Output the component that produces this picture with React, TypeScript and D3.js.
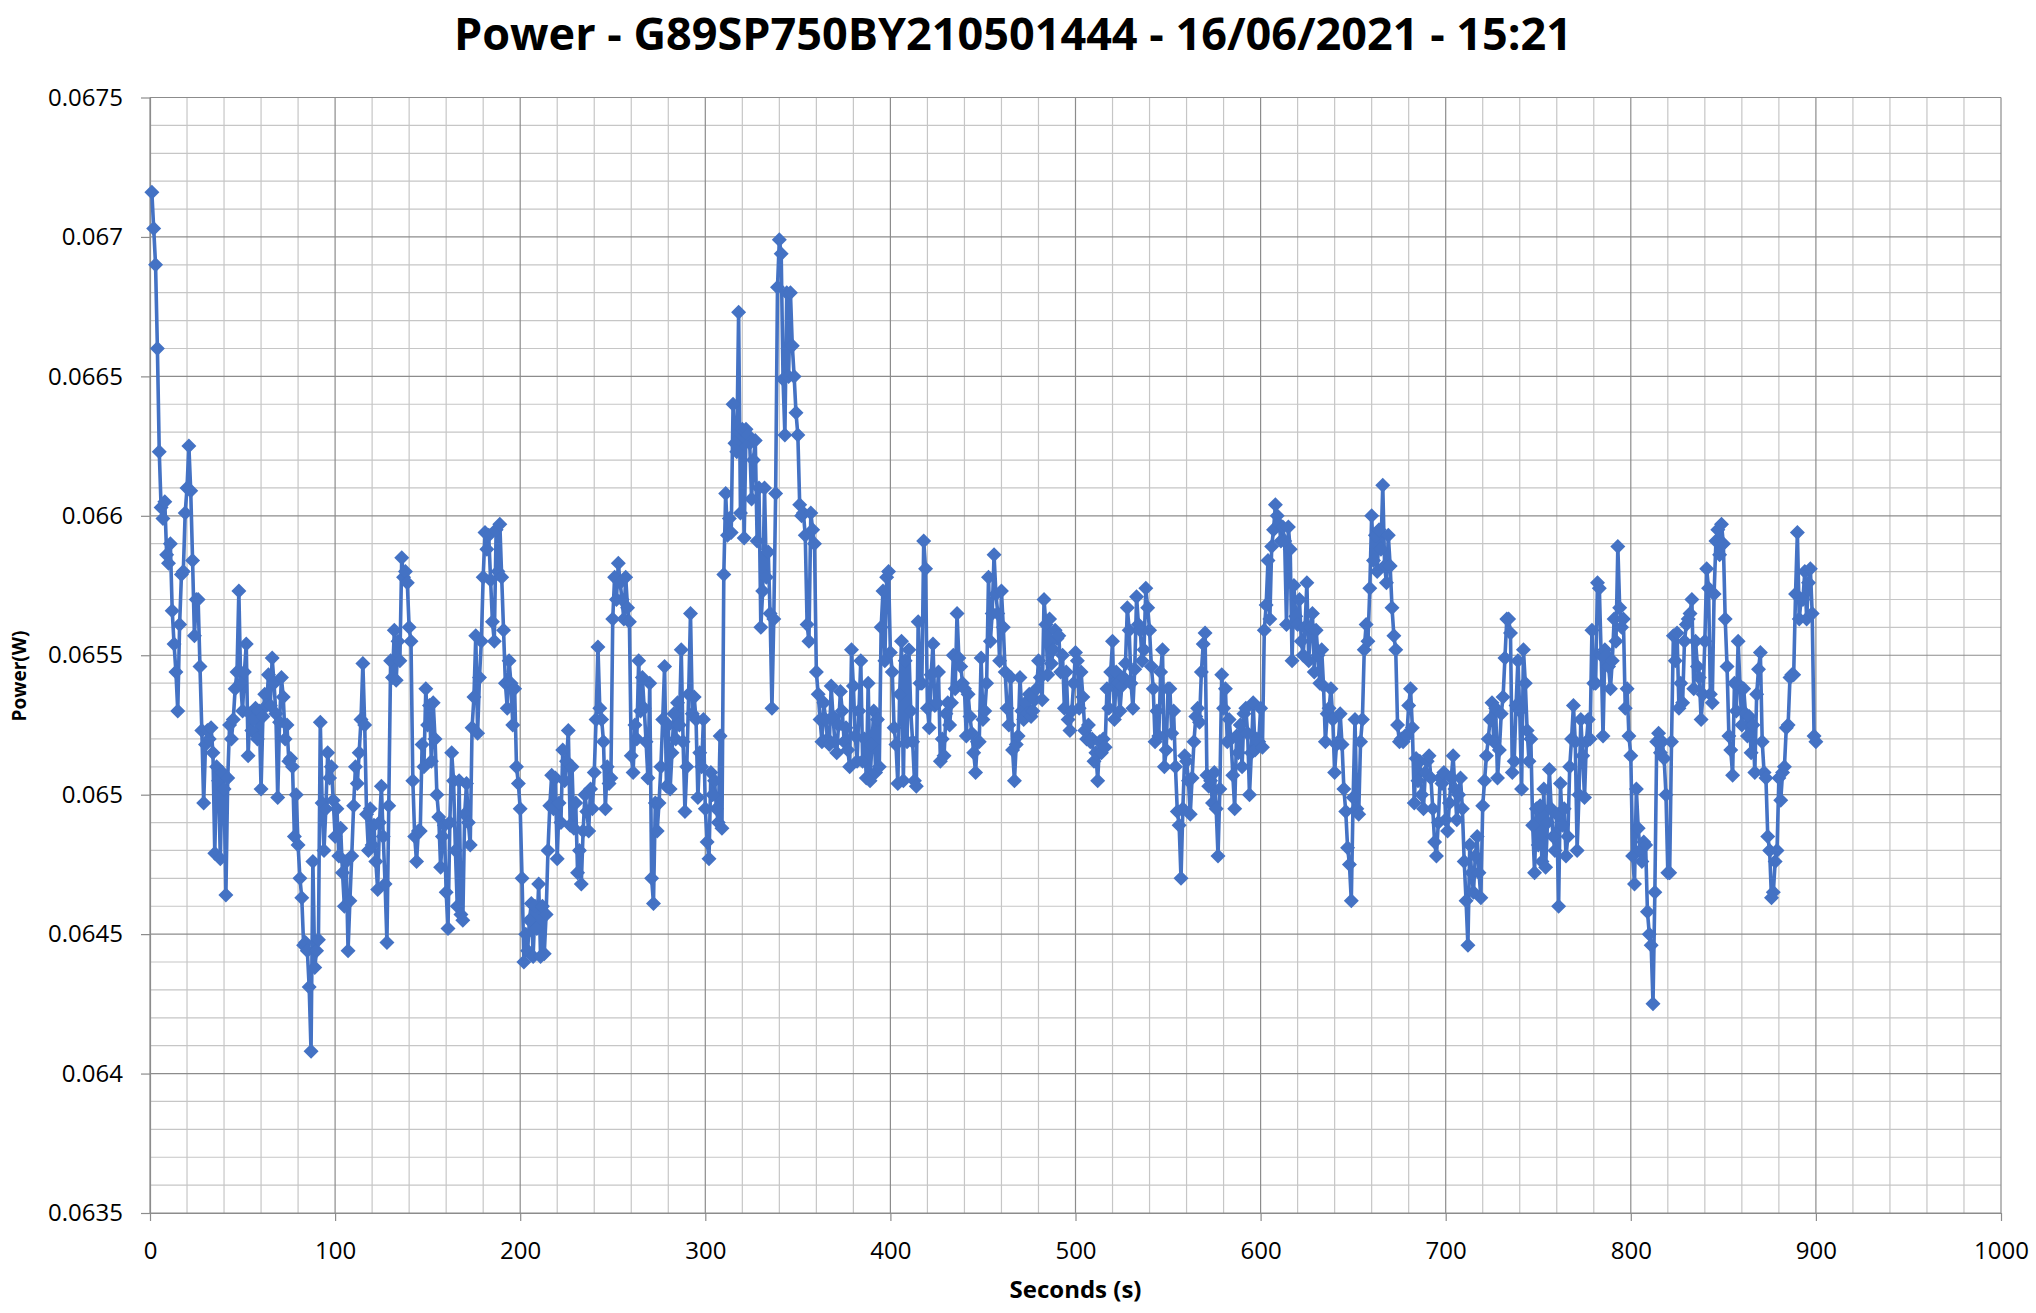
import * as d3 from 'd3';
import React, { useEffect, useRef } from 'react';

const TITLE = 'Power - G89SP750BY210501444 - 16/06/2021 - 15:21';
const X_TITLE = 'Seconds (s)';
const Y_TITLE = 'Power(W)';

const xTicks = [0, 100, 200, 300, 400, 500, 600, 700, 800, 900, 1000];
const yTicks = [0.0635, 0.064, 0.0645, 0.065, 0.0655, 0.066, 0.0665, 0.067, 0.0675];
const yTickLabels = ['0.0635', '0.064', '0.0645', '0.065', '0.0655', '0.066', '0.0665', '0.067', '0.0675'];

// one reading per second, starting at t = 1 s
const startSecond = 1;
const stepSeconds = 1;
// readings in microwatts
const powerMicroW = [
  67160, 67030, 66900, 66600, 66230, 66030, 65990, 66050, 65860, 65830,
  65900, 65660, 65540, 65440, 65300, 65610, 65790, 65800, 66010, 66100,
  66250, 66090, 65840, 65570, 65700, 65700, 65460, 65230, 64970, 65180,
  65230, 65200, 65240, 65150, 64790, 65100, 65050, 64770, 65080, 65020,
  64640, 65060, 65250, 65200, 65270, 65380, 65440, 65730, 65400, 65300,
  65440, 65540, 65140, 65290, 65230, 65270, 65310, 65200, 65300, 65020,
  65280, 65360, 65320, 65430, 65320, 65490, 65400, 65290, 64990, 65260,
  65420, 65350, 65200, 65250, 65120, 65130, 65100, 64850, 65000, 64820,
  64700, 64630, 64460, 64470, 64440, 64310, 64080, 64760, 64380, 64440,
  64480, 65260, 64970, 64800, 64950, 65150, 65060, 65100, 64980, 64850,
  64950, 64780, 64880, 64720, 64600, 64760, 64440, 64620, 64780, 64960,
  65100, 65040, 65150, 65270, 65470, 65250, 64930, 64800, 64950, 64820,
  64890, 64760, 64660, 64900, 65030, 64850, 64680, 64470, 64960, 65480,
  65420, 65590, 65410, 65550, 65480, 65850, 65780, 65800, 65760, 65600,
  65550, 65050, 64850, 64760, 64870, 64870, 65180, 65100, 65380, 65250,
  65320, 65120, 65330, 65200, 65000, 64920, 64740, 64850, 64890, 64650,
  64520, 64900, 65150, 65050, 64800, 64600, 65050, 64570, 64550, 64930,
  65040, 64900, 64820, 65240, 65350, 65570, 65220, 65420, 65550, 65780,
  65940, 65880, 65930, 65770, 65620, 65550, 65950, 65800, 65970, 65780,
  65590, 65400, 65310, 65480, 65400, 65250, 65380, 65100, 65040, 64950,
  64700, 64400, 64500, 64440, 64550, 64610, 64420, 64600, 64520, 64680,
  64420, 64600, 64430, 64570, 64800, 64960, 65070, 64950, 65060, 64770,
  64970, 64900, 65160, 65050, 65120, 65230, 64890, 65100, 64880, 64970,
  64720, 64800, 64680, 64870, 65000, 64940, 64870, 65020, 64950, 65080,
  65270, 65530, 65310, 65270, 65190, 64950, 65100, 65040, 65060, 65630,
  65780, 65700, 65830, 65760, 65700, 65630, 65780, 65670, 65620, 65140,
  65080, 65250, 65200, 65480, 65300, 65420, 65310, 65190, 65060, 65400,
  64700, 64610, 64970, 64870, 64970, 65100, 65270, 65460, 65030, 65250,
  65020, 65150, 65290, 65200, 65330, 65250, 65520, 65190, 64940, 65100,
  65360, 65650, 65290, 65350, 65270, 64990, 65150, 65100, 65270, 64950,
  64830, 64770, 65080, 65000, 65050, 64950, 64900, 65210, 64880, 65790,
  66080, 65930, 65990, 65940, 66400, 66260, 66230, 66730, 66010, 66310,
  65920, 66310, 66290, 66260, 66060, 66200, 66270, 65910, 66100, 65600,
  65730, 66100, 65780, 65870, 65650, 65310, 65630, 66080, 66820, 66990,
  66940, 66490, 66290, 66800, 66500, 66800, 66610, 66500, 66370, 66290,
  66040, 66000, 66010, 65930, 65610, 65550, 66010, 65950, 65900, 65440,
  65360, 65270, 65190, 65330, 65270, 65200, 65180, 65390, 65280, 65190,
  65150, 65250, 65370, 65300, 65190, 65240, 65160, 65100, 65520, 65390,
  65210, 65120, 65300, 65480, 65120, 65200, 65060, 65400, 65050, 65180,
  65300, 65080, 65270, 65100, 65600, 65730, 65480, 65780, 65800, 65510,
  65440, 65240, 65180, 65040, 65360, 65550, 65050, 65480, 65190, 65520,
  65300, 65190, 65050, 65030, 65620, 65400, 65400, 65910, 65810, 65310,
  65240, 65430, 65540, 65320, 65330, 65440, 65120, 65200, 65140, 65290,
  65330, 65250, 65330, 65500, 65380, 65650, 65490, 65460, 65400, 65380,
  65210, 65360, 65280, 65220, 65150, 65080, 65190, 65190, 65490, 65270,
  65300, 65400, 65780, 65550, 65650, 65860, 65720, 65650, 65480, 65730,
  65600, 65440, 65310, 65250, 65420, 65160, 65050, 65180, 65210, 65420,
  65300, 65270, 65330, 65290, 65360, 65280, 65300, 65340, 65380, 65480,
  65420, 65340, 65700, 65610, 65430, 65630, 65470, 65520, 65590, 65560,
  65570, 65440, 65500, 65310, 65440, 65270, 65230, 65300, 65400, 65510,
  65480, 65310, 65440, 65350, 65230, 65200, 65250, 65190, 65200, 65120,
  65150, 65050, 65190, 65150, 65200, 65170, 65380, 65310, 65440, 65550,
  65270, 65440, 65400, 65300, 65390, 65420, 65470, 65670, 65590, 65400,
  65310, 65450, 65710, 65610, 65590, 65480, 65520, 65740, 65670, 65590,
  65460, 65380, 65190, 65300, 65210, 65440, 65520, 65100, 65160, 65380,
  65380, 65220, 65300, 65100, 64940, 64890, 64700, 64950, 65140, 65120,
  65050, 64930, 65060, 65190, 65280, 65310, 65260, 65440, 65540, 65580,
  65070, 65030, 65050, 64970, 65080, 64950, 64780, 65020, 65430, 65310,
  65380, 65190, 65270, 65200, 65070, 64950, 65210, 65150, 65250, 65100,
  65290, 65310, 65220, 65000, 65150, 65330, 65160, 65200, 65190, 65310,
  65170, 65590, 65680, 65840, 65630, 65890, 65950, 66040, 66000, 65970,
  65910, 65960, 65910, 65610, 65960, 65880, 65480, 65750, 65640, 65610,
  65700, 65550, 65500, 65600, 65760, 65480, 65600, 65650, 65440, 65590,
  65500, 65400, 65520, 65390, 65190, 65290, 65310, 65380, 65270, 65080,
  65180, 65190, 65290, 65180, 65020, 64940, 64810, 64750, 64620, 64990,
  65270, 64950, 64930, 65190, 65270, 65520, 65610, 65550, 65740, 66000,
  65840, 65930, 65800, 65950, 65880, 66110, 65820, 65760, 65930, 65820,
  65670, 65570, 65520, 65250, 65190, 65200, 65190, 65210, 65210, 65320,
  65380, 65240, 64970, 65130, 65050, 65120, 65000, 64950, 65080, 65120,
  65140, 65060, 64950, 64830, 64780, 64900, 65060, 65040, 65080, 64910,
  64870, 64970, 65060, 65140, 65020, 64910, 65000, 65060, 64950, 64760,
  64620, 64460, 64820, 64720, 64650, 64780, 64850, 64720, 64630, 64960,
  65050, 65140, 65200, 65270, 65330, 65190, 65310, 65060, 65160, 65290,
  65350, 65490, 65630, 65630, 65580, 65080, 65120, 65320, 65480, 65300,
  65020, 65520, 65400, 65230, 65120, 65200, 64890, 64720, 64950, 64820,
  64960, 64760, 65020, 64740, 64900, 65090, 64950, 64850, 64800, 64930,
  64600, 65040, 64890, 64950, 64780, 64850, 65100, 65200, 65320, 65190,
  64800, 65000, 65270, 65140, 64990, 65190, 65270, 65200, 65590, 65400,
  65400, 65760, 65740, 65500, 65210, 65520, 65500, 65460, 65380, 65480,
  65630, 65550, 65890, 65670, 65600, 65630, 65310, 65380, 65210, 65140,
  64780, 64680, 65020, 64880, 64800, 64760, 64830, 64820, 64580, 64500,
  64460, 64250, 64650, 65190, 65220, 65150, 65190, 65130, 65000, 64720,
  64720, 65190, 65570, 65480, 65580, 65310, 65400, 65330, 65550, 65610,
  65630, 65650, 65700, 65380, 65550, 65460, 65420, 65270, 65360, 65550,
  65810, 65740, 65360, 65330, 65720, 65910, 65950, 65860, 65970, 65900,
  65630, 65460, 65210, 65160, 65070, 65400, 65300, 65550, 65390, 65250,
  65380, 65290, 65210, 65280, 65150, 65250, 65080, 65360, 65450, 65510,
  65190, 65080, 65060, 64850, 64800, 64630, 64650, 64760, 64800, 65060,
  64980, 65080, 65100, 65240, 65250, 65420, 65430, 65430, 65720, 65940,
  65630, 65700, 65700, 65800, 65630, 65760, 65810, 65650, 65210, 65190,
];

export default function App() {
  const ref = useRef<SVGSVGElement>(null);

  useEffect(() => {
    if (!ref.current) return;
    const svg = d3.select(ref.current);
    svg.selectAll('*').remove();

    const width = 2036;
    const height = 1313;
    const margin = { top: 97.5, right: 35, bottom: 100, left: 150 };
    const font = "'Open Sans', 'Liberation Sans', sans-serif";
    const seriesColor = '#4472C4';

    const points = powerMicroW.map((p, i) => ({
      t: startSecond + i * stepSeconds,
      w: p / 1e6,
    }));

    const x = d3.scaleLinear().domain([0, 1000]).range([margin.left, width - margin.right]);
    const y = d3.scaleLinear().domain([0.0635, 0.0675]).range([height - margin.bottom, margin.top]);

    svg.append('rect').attr('width', width).attr('height', height).attr('fill', '#ffffff');

    // minor gridlines
    const minorX = d3.range(0, 1001, 20).filter(v => v % 100 !== 0);
    const minorY = d3.range(0, 41).map(i => 0.0635 + i * 0.0001).filter((_, i) => i % 5 !== 0);
    const grid = svg.append('g');
    grid
      .selectAll('.minor-x')
      .data(minorX)
      .enter()
      .append('line')
      .attr('x1', d => x(d))
      .attr('x2', d => x(d))
      .attr('y1', y(0.0635))
      .attr('y2', y(0.0675))
      .attr('stroke', '#c6c6c6')
      .attr('stroke-width', 1.2);
    grid
      .selectAll('.minor-y')
      .data(minorY)
      .enter()
      .append('line')
      .attr('x1', x(0))
      .attr('x2', x(1000))
      .attr('y1', d => y(d))
      .attr('y2', d => y(d))
      .attr('stroke', '#c6c6c6')
      .attr('stroke-width', 1.2);
    // major gridlines
    grid
      .selectAll('.major-x')
      .data(xTicks)
      .enter()
      .append('line')
      .attr('x1', d => x(d))
      .attr('x2', d => x(d))
      .attr('y1', y(0.0635))
      .attr('y2', y(0.0675))
      .attr('stroke', '#8c8c8c')
      .attr('stroke-width', 1.2);
    grid
      .selectAll('.major-y')
      .data(yTicks)
      .enter()
      .append('line')
      .attr('x1', x(0))
      .attr('x2', x(1000))
      .attr('y1', d => y(d))
      .attr('y2', d => y(d))
      .attr('stroke', '#8c8c8c')
      .attr('stroke-width', 1.2);

    // axes
    const xAxis = svg
      .append('g')
      .attr('transform', `translate(0,${y(0.0635)})`)
      .call(
        d3
          .axisBottom(x)
          .tickValues(xTicks)
          .tickSize(8)
          .tickSizeOuter(0)
          .tickPadding(21)
          .tickFormat(d3.format('d'))
      );
    const yAxis = svg
      .append('g')
      .attr('transform', `translate(${x(0)},0)`)
      .call(
        d3
          .axisLeft(y)
          .tickValues(yTicks)
          .tickSize(9)
          .tickSizeOuter(0)
          .tickPadding(18)
          .tickFormat((d, i) => yTickLabels[i])
      );
    [xAxis, yAxis].forEach(ax => {
      ax.selectAll('path').attr('stroke', '#8c8c8c').attr('stroke-width', 1.2);
      ax.selectAll('line').attr('stroke', '#8c8c8c').attr('stroke-width', 1.2);
      ax.selectAll('text')
        .attr('fill', '#000000')
        .style('font-family', font)
        .style('font-size', '24px');
    });

    // series
    const line = d3
      .line<{ t: number; w: number }>()
      .x(d => x(d.t))
      .y(d => y(d.w));
    svg
      .append('path')
      .datum(points)
      .attr('d', line)
      .attr('fill', 'none')
      .attr('stroke', seriesColor)
      .attr('stroke-width', 3.6)
      .attr('stroke-linejoin', 'round');
    svg
      .append('g')
      .selectAll('path')
      .data(points)
      .enter()
      .append('path')
      .attr('d', 'M0,-7.5L7.5,0L0,7.5L-7.5,0Z')
      .attr('transform', d => `translate(${x(d.t)},${y(d.w)})`)
      .attr('fill', seriesColor);

    // titles
    svg
      .append('text')
      .attr('x', 1013)
      .attr('y', 50)
      .attr('text-anchor', 'middle')
      .style('font-family', font)
      .style('font-size', '45px')
      .style('font-weight', 'bold')
      .text(TITLE);
    svg
      .append('text')
      .attr('x', (x(0) + x(1000)) / 2)
      .attr('y', 1298)
      .attr('text-anchor', 'middle')
      .style('font-family', font)
      .style('font-size', '24px')
      .style('font-weight', 'bold')
      .text(X_TITLE);
    svg
      .append('text')
      .attr('transform', 'translate(26,676) rotate(-90)')
      .attr('text-anchor', 'middle')
      .style('font-family', font)
      .style('font-size', '19px')
      .style('font-weight', 'bold')
      .text(Y_TITLE);
  }, []);

  return (
    <svg
      ref={ref}
      width={2036}
      height={1313}
      style={{ position: 'absolute', left: 0, top: 0, display: 'block' }}
    />
  );
}
